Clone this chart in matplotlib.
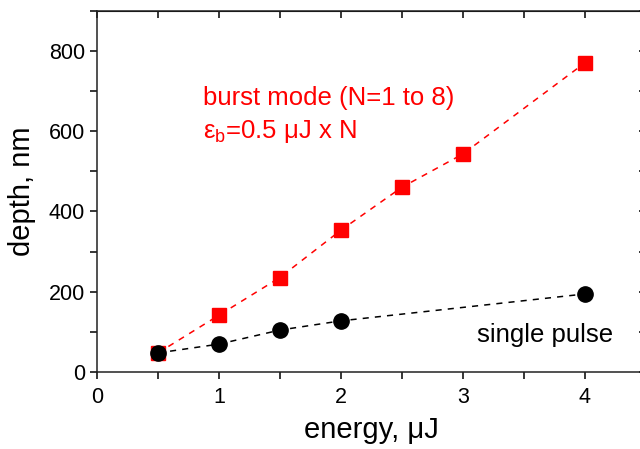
import matplotlib.pyplot as plt
from matplotlib.ticker import MultipleLocator

plt.rcParams['font.family'] = ['Liberation Sans', 'DejaVu Sans']
plt.rcParams['mathtext.default'] = 'regular'

# pulse energy (uJ) and ablation depth (nm)
energy_burst = [0.5, 1.0, 1.5, 2.0, 2.5, 3.0, 4.0]
depth_burst = [47, 141, 235, 353, 460, 543, 770]

energy_single = [0.5, 1.0, 1.5, 2.0, 4.0]
depth_single = [47, 69, 104, 127, 194]

fig = plt.figure(figsize=(6.4, 4.49), dpi=100)
ax = fig.add_axes([0.1516, 0.172, 0.857, 0.8035])

ax.plot(energy_burst, depth_burst, ls=(0, (4, 4)), lw=1.1, color='#ff0000',
        marker='s', ms=9.5, mec='#ff0000', mfc='#ff0000')
ax.plot(energy_single, depth_single, ls=(0, (4, 4)), lw=1.1, color='black',
        marker='o', ms=11, mec='black', mfc='black')

ax.set_xlim(0, 4.5)
ax.set_ylim(0, 900)
ax.xaxis.set_major_locator(MultipleLocator(1))
ax.xaxis.set_minor_locator(MultipleLocator(0.5))
ax.yaxis.set_major_locator(MultipleLocator(200))
ax.yaxis.set_minor_locator(MultipleLocator(100))

ax.tick_params(which='both', direction='out', length=5, width=1.1,
               labelsize=15.5, top=False, right=False)
ax.tick_params(axis='x', pad=6)
for s in ax.spines.values():
    s.set_linewidth(1.1)
    s.set_color('#222222')

# mirrored inward ticks on top and right
top = ax.secondary_xaxis('top')
top.xaxis.set_major_locator(MultipleLocator(0.5))
top.tick_params(direction='in', length=5, width=1.1, labeltop=False)
right = ax.secondary_yaxis('right')
right.yaxis.set_major_locator(MultipleLocator(100))
right.tick_params(direction='in', length=5, width=1.1, labelright=False)

ax.set_xlabel('energy, μJ', fontsize=21, labelpad=6)
ax.set_ylabel('depth, nm', fontsize=21, labelpad=9)

ax.text(0.87, 665, 'burst mode (N=1 to 8)', color='#ff0000', fontsize=18.5)
ax.text(0.87, 583, 'ε$_{b}$=0.5 μJ x N', color='#ff0000', fontsize=18.5)
ax.text(3.12, 75, 'single pulse', color='black', fontsize=18.5)

fig.savefig('out.png', dpi=100)
